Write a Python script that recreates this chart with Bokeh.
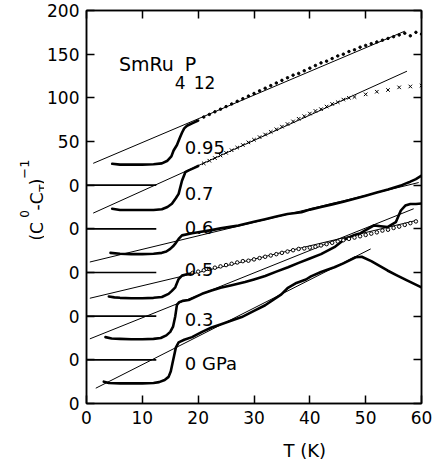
import math
from bokeh.plotting import figure
from bokeh.models import LinearAxis, FixedTicker, Label, Range1d
from bokeh.layouts import row, column
from bokeh.embed import file_html
from bokeh.resources import INLINE

# ---------------- data ----------------
x_ticks = [0, 10, 20, 30, 40, 50, 60]
y_ticks = [-250, -200, -150, -100, -50, 0, 50, 100, 150, 200]
y_tick_labels = ["0", "0", "0", "0", "0", "0", "50", "100", "150", "200"]

# 0.95 GPa
T_095_low = [4.6, 6, 8, 10, 12, 13.5, 14.5, 15.2, 15.6, 16.2, 16.7, 17.1, 17.5, 18, 19, 20]
Y_095_low = [24.5, 23.5, 23.5, 23.5, 24, 25, 28, 33, 39.7, 46, 54, 60, 65, 68, 71, 74]
T_095_pts = list(range(21, 61))
Y_095_pts = [78, 81, 84, 87, 90, 93, 96, 99, 102, 105,
             108, 111, 114, 117, 120, 123, 126, 128, 131, 134,
             137, 140, 142, 145, 148, 150, 153, 155, 158, 160,
             162, 164, 166, 168, 170, 172, 174, 171, 175, 173]

# 0.7 GPa
T_07_low = [4.6, 6, 8, 10, 12, 13.5, 14.5, 15.3, 16, 16.5, 17.1, 17.7, 18.3, 19, 20]
Y_07_low = [-27, -28.5, -28.5, -28.5, -28.5, -27.5, -25, -21.3, -15, -10, 5, 14.8, 17, 19, 22]
T_07_pts = list(range(21, 49)) + [50, 52, 54, 56, 58, 60]
Y_07_pts = [25, 28, 31, 34, 37, 40, 43, 46, 49, 52,
            55, 58, 61, 64, 67, 70, 73, 76, 79, 82,
            85, 87, 90, 93, 95, 98, 100, 101,
            104, 107, 109, 112, 113, 114]

# 0.6 GPa
T_06 = [4.3, 6, 8, 10, 12, 13.5, 14.3, 15, 15.5, 15.9, 16.5, 17.1, 18.9, 20, 22.4, 24, 26, 27.2,
        30, 32, 34, 36, 38.5, 40, 42, 44, 46, 48, 50, 52, 54, 56.3, 57, 58, 59, 60]
Y_06 = [-77.5, -78.5, -79, -79, -78.5, -77.5, -76, -73, -70, -67, -61.5, -57.5, -55, -54, -51.5,
        -49.5, -47.5, -46.2, -42, -39, -36, -33, -31, -28, -25, -22, -19, -15.5, -12, -8.5, -5,
        -0.5, 1.5, 4, 7, 11]

# 0.5 GPa
T_05_low = [4, 5, 6, 8, 10, 12, 13.5, 14.7, 15.3, 15.9, 16.5, 17.1, 18, 19]
Y_05_low = [-127.5, -128.5, -129, -129.5, -129.5, -129, -128, -124.5, -121, -117, -107.5, -103.5, -102, -101]
T_05_pts = list(range(19, 60))
Y_05_pts = [-100.5, -99, -97.5, -96, -94.5, -93, -91.5, -90, -88.5, -87,
            -86.5, -85, -83.5, -82, -80.5, -79, -77.5, -76, -74.5, -73,
            -72.5, -71.5, -70.5, -69, -67.5, -66, -64.5, -63, -61.5, -60,
            -58.5, -57, -55.5, -54, -52, -51, -49, -47.5, -45.5, -43.5,
            -41.5]

# 0.3 GPa
T_03 = [3.4, 4.5, 6, 8, 10, 12, 13.3, 14.3, 15.0, 15.5, 15.9, 16.2, 16.6, 17.2, 18.3, 20.7, 22.4,
        24, 26, 28.4, 30, 32, 34, 36.1, 38, 40, 42, 44.4, 46, 48, 49.1, 50, 51.5, 52.7, 53.9,
        55.4, 56.3, 57.1, 58, 59, 60]
Y_03 = [-174, -175.5, -176, -176.5, -176.5, -176, -175, -172, -168, -162, -150, -137, -134,
        -132.5, -131.5, -124.4, -120.6, -117.5, -114.5, -111, -108, -104, -99, -94, -89, -84,
        -79, -71, -63, -57, -55, -51.5, -46, -47, -48, -42.4, -29, -23.3, -21.5, -21.5, -21]

# 0 GPa
T_00 = [3.1, 4, 6, 8, 10, 12, 13, 14, 14.7, 15.1, 15.4, 15.7, 16.0, 16.5, 17.5, 18.9, 20.7, 22.4,
        24, 26, 27.8, 30, 32, 34.9, 36, 37.6, 39.3, 40.2, 42, 44.4, 46, 48.2, 49.3, 51, 53.9,
        55.5, 57.4, 60]
Y_00 = [-225, -226.5, -227, -227, -227, -226.5, -225.5, -223, -219.5, -213, -204, -195, -186,
        -180, -177, -174, -168, -163, -159.5, -155, -151, -144, -137.5, -125, -118, -112, -108,
        -104.5, -99.5, -94, -89.5, -82.5, -82, -87, -97.7, -103, -109, -117]

# straight fit lines (start T, start y, end T, end y)
fit_t0 = [1.2, 1.2, 0.6, 0.6, 0.6, 1.66]
fit_y0 = [25, -32, -88, -129.5, -176, -232.5]
fit_t1 = [57, 57.4, 59.5, 59, 58.6, 50.9]
fit_y1 = [176.3, 130.5, 3, -40.5, -27, -73]

# zero reference lines
zero_levels = [0, -50, -100, -150, -200]
zero_t_start = [0, 0, 0, 0, 0]
zero_t_end = [12.5, 12.5, 12.5, 12.5, 12.5]

curve_labels = ["0.95", "0.7", "0.6", "0.5", "0.3", "0 GPa"]
label_T = [17.6, 17.6, 17.6, 17.6, 17.6, 17.6]
label_Y = [43.1, -9.5, -48.5, -96.6, -153.8, -204.2]

FONT = "DejaVu Sans"
TOTAL_W, MAIN_H, LEFT_W, BOTTOM_H = 437, 432, 44, 28

# ---------------- main figure ----------------
p = figure(width=TOTAL_W - LEFT_W, height=MAIN_H, output_backend="svg", toolbar_location=None,
           x_range=Range1d(0, 60), y_range=Range1d(-250, 200),
           min_border_left=40, min_border_right=16, min_border_top=10, min_border_bottom=29,
           x_axis_location=None, y_axis_location=None)
p.grid.visible = False
p.outline_line_color = "black"
p.outline_line_width = 1.5
p.background_fill_color = "white"
p.border_fill_color = "white"


def style(ax, labels=True):
    ax.major_tick_in = 8
    ax.major_tick_out = 0
    ax.minor_tick_line_color = None
    ax.axis_line_width = 1.5
    ax.axis_line_color = "black"
    ax.major_tick_line_width = 1.5
    ax.major_tick_line_color = "black"
    ax.major_label_text_font = FONT
    ax.major_label_text_color = "black"
    if labels:
        ax.major_label_text_font_size = "17px"
        ax.major_label_standoff = 7
    else:
        ax.major_label_text_font_size = "1px"
        ax.major_label_standoff = 0


xb = LinearAxis(ticker=FixedTicker(ticks=x_ticks))
style(xb)
p.add_layout(xb, "below")

yl = LinearAxis(ticker=FixedTicker(ticks=y_ticks),
                major_label_overrides={v: s for v, s in zip(y_ticks, y_tick_labels)})
style(yl)
p.add_layout(yl, "left")

xt = LinearAxis(ticker=FixedTicker(ticks=x_ticks),
                major_label_overrides={v: "" for v in x_ticks})
style(xt, labels=False)
p.add_layout(xt, "above")

yr = LinearAxis(ticker=FixedTicker(ticks=y_ticks),
                major_label_overrides={v: "" for v in y_ticks})
style(yr, labels=False)
p.add_layout(yr, "right")

# zero lines
p.segment(x0=zero_t_start, y0=zero_levels, x1=zero_t_end, y1=zero_levels,
          line_color="black", line_width=1.6)

# fit lines
p.segment(x0=fit_t0, y0=fit_y0, x1=fit_t1, y1=fit_y1, line_color="black", line_width=1)

# data curves
LW = 2.6
for T, Y in [(T_095_low, Y_095_low), (T_07_low, Y_07_low), (T_06, Y_06),
             (T_05_low, Y_05_low), (T_03, Y_03), (T_00, Y_00)]:
    p.line(T, Y, line_color="black", line_width=LW, line_join="round", line_cap="round")

p.scatter(T_095_pts, Y_095_pts, marker="circle", size=2.5, fill_color="black", line_color="black")
p.scatter(T_07_pts, Y_07_pts, marker="x", size=5, line_color="black", line_width=1)
p.scatter(T_05_pts, Y_05_pts, marker="circle", size=3.5, fill_color="white",
          line_color="black", line_width=1)

# curve labels
for txt, tx, ty in zip(curve_labels, label_T, label_Y):
    p.add_layout(Label(x=tx, y=ty, text=txt, text_font=FONT, text_font_size="18px",
                       text_align="left", text_baseline="alphabetic", text_color="black"))

# compound name SmRu4P12
for txt, tx, ty, fs in [("SmRu", 5.8, 139.3, "19px"), ("4", 15.8, 117.6, "17px"),
                        ("P", 17.6, 139.3, "19px"), ("12", 19.2, 117.6, "17px")]:
    p.add_layout(Label(x=tx, y=ty, text=txt, text_font=FONT, text_font_size=fs,
                       text_align="left", text_baseline="alphabetic", text_color="black"))

# ---------------- left strip: rotated y title (C^0 - C_T)^-1 ----------------
lf = figure(width=LEFT_W, height=MAIN_H, output_backend="svg", toolbar_location=None,
            x_range=Range1d(0, LEFT_W), y_range=Range1d(0, MAIN_H), min_border=0,
            x_axis_location=None, y_axis_location=None)
lf.grid.visible = False
lf.outline_line_color = None
lf.background_fill_color = "white"
lf.border_fill_color = "white"
A = math.pi / 2
# (text, baseline x in px, top end of the rotated text in px from top, font size)
for txt, tx, py, fs in [("(C", 36, 232.5, "17px"), ("0", 24, 219.4, "12px"),
                        ("-C", 36, 200, "17px"), ("T", 43, 191.2, "12px"),
                        (")", 36, 184.9, "17px"), ("\u22121", 24, 163.8, "13px")]:
    lf.add_layout(Label(x=tx, y=MAIN_H - py, text=txt, angle=A, text_font=FONT,
                        text_font_size=fs, text_align="right", text_baseline="alphabetic",
                        text_color="black"))

# ---------------- bottom strip: x title ----------------
bf = figure(width=TOTAL_W, height=BOTTOM_H, output_backend="svg", toolbar_location=None,
            x_range=Range1d(0, TOTAL_W), y_range=Range1d(0, BOTTOM_H), min_border=0,
            x_axis_location=None, y_axis_location=None)
bf.grid.visible = False
bf.outline_line_color = None
bf.background_fill_color = "white"
bf.border_fill_color = "white"
bf.add_layout(Label(x=283, y=BOTTOM_H - (450 - MAIN_H), text="T (K)", text_font=FONT,
                    text_font_size="18px", text_align="left", text_baseline="alphabetic",
                    text_color="black"))

layout = column(row(lf, p, spacing=0), bf, spacing=0)
open("out.html", "w").write(file_html(layout, INLINE))
